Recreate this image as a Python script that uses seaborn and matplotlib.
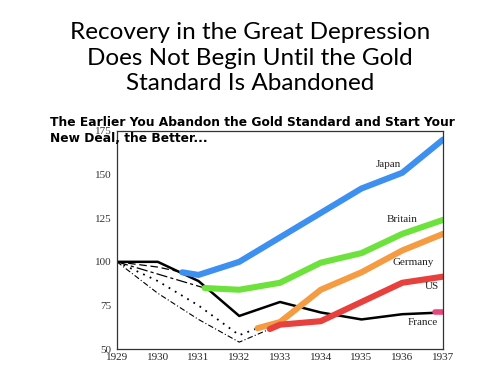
import matplotlib
matplotlib.use("Agg")
import matplotlib.pyplot as plt
import seaborn as sns
import pandas as pd
from matplotlib.transforms import Bbox, TransformedBbox

# ---- data ----
years = [1929, 1930, 1931, 1932, 1933, 1934, 1935, 1936, 1937]
france = [100, 100, 89, 69, 77, 71, 67, 70, 71]
france_end_x = [1936.8, 1937]
france_end_y = [71, 71]

japan_gold_x = [1929, 1930, 1930.6]
japan_gold_y = [100, 97, 94]
japan_x = [1930.6, 1931, 1932, 1933, 1934, 1935, 1936, 1937]
japan_y = [94, 92.5, 100, 114, 128, 142, 151, 170]

britain_gold_x = [1929, 1930, 1931.15]
britain_gold_y = [100, 93, 85]
britain_x = [1931.15, 1932, 1933, 1934, 1935, 1936, 1937]
britain_y = [85, 84, 88, 99.5, 105, 116, 124]

germany_gold_x = [1929, 1930, 1931, 1932, 1932.45]
germany_gold_y = [100, 89, 75, 58, 62]
germany_x = [1932.45, 1933, 1934, 1935, 1936, 1937]
germany_y = [62, 65.5, 84, 94, 106.5, 116]

us_gold_x = [1929, 1930, 1931, 1932, 1932.75]
us_gold_y = [100, 82, 67, 54, 61.5]
us_x = [1932.75, 1933, 1934, 1935, 1936, 1937]
us_y = [61.5, 64, 66, 77, 88, 91.5]

labels = ["Japan", "Britain", "Germany", "US", "France"]
label_x = [1935.65, 1936.0, 1936.27, 1936.73, 1936.5]
label_y = [156, 124, 99.7, 86, 65]

yticks = [50, 75, 100, 125, 150, 175]

title = "Recovery in the Great Depression\nDoes Not Begin Until the Gold\nStandard Is Abandoned"
subtitle = "The Earlier You Abandon the Gold Standard and Start Your\nNew Deal, the Better..."

# ---- plot ----
sns.set_style("white")
plt.rcParams['font.family'] = ['DejaVu Sans']

fig = plt.figure(figsize=(5, 3.75), dpi=100)
ax = fig.add_axes([0.234, 0.069, 0.652, 0.582])

def seg(x, y, color, lw, **kw):
    df = pd.DataFrame({"x": x, "y": y})
    sns.lineplot(data=df, x="x", y="y", ax=ax, color=color, linewidth=lw,
                 estimator=None, sort=False, **kw)

blue = "#3d8ff0"
green = "#6ee23c"
orange = "#f59c42"
red = "#e8403c"
pink = "#e8457c"

# pre-abandonment gold lines (thin black)
ax.plot(japan_gold_x, japan_gold_y, color="black", lw=0.9, dashes=(6, 3))
ax.plot(britain_gold_x, britain_gold_y, color="black", lw=0.9, dashes=(9, 2.5, 2.5, 2.5))
ax.plot(germany_gold_x, germany_gold_y, color="black", lw=1.3, dashes=(1, 3))
ax.plot(us_gold_x, us_gold_y, color="black", lw=0.8, dashes=(5, 2, 1, 2))

# France solid black
seg(years, france, "black", 1.8)
seg(france_end_x, france_end_y, pink, 4)

# post-abandonment colored lines
seg(japan_x, japan_y, blue, 4.4)
seg(britain_x, britain_y, green, 4.4)
seg(germany_x, germany_y, orange, 4.4)
seg(us_x, us_y, red, 4.4)

for lab, lx, ly in zip(labels, label_x, label_y):
    ax.text(lx, ly, lab, family="Liberation Serif", fontsize=8,
            ha="center", va="center", color="#222222")

ax.set_xlim(1929, 1937)
ax.set_ylim(50, 175)
ax.set_xticks(years)
ax.set_xticklabels([str(y) for y in years], family="Liberation Serif", fontsize=8)
ax.set_yticks(yticks)
ax.set_yticklabels([str(v) for v in yticks], family="Liberation Serif", fontsize=8,
                   color="#333333")
ax.set_xlabel("")
ax.set_ylabel("")
ax.tick_params(axis="y", direction="out", length=3, width=0.8, pad=1)
ax.tick_params(axis="x", direction="in", length=3, width=0.8, pad=3)
for s in ax.spines.values():
    s.set_color("#333333")
    s.set_linewidth(0.9)

fig.text(0.5, 0.845, title, ha="center", va="center", fontsize=17.5,
         family="Lato", linespacing=1.28, color="black")

t = fig.text(0.1, 0.651, subtitle, ha="left", va="center", fontsize=8.8,
             fontweight="bold", family="DejaVu Sans", linespacing=1.3,
             color="black", clip_on=True, zorder=5)
t.set_clip_box(TransformedBbox(Bbox([[0, 0], [0.91, 1]]), fig.transFigure))

fig.savefig("out.png", dpi=100)
